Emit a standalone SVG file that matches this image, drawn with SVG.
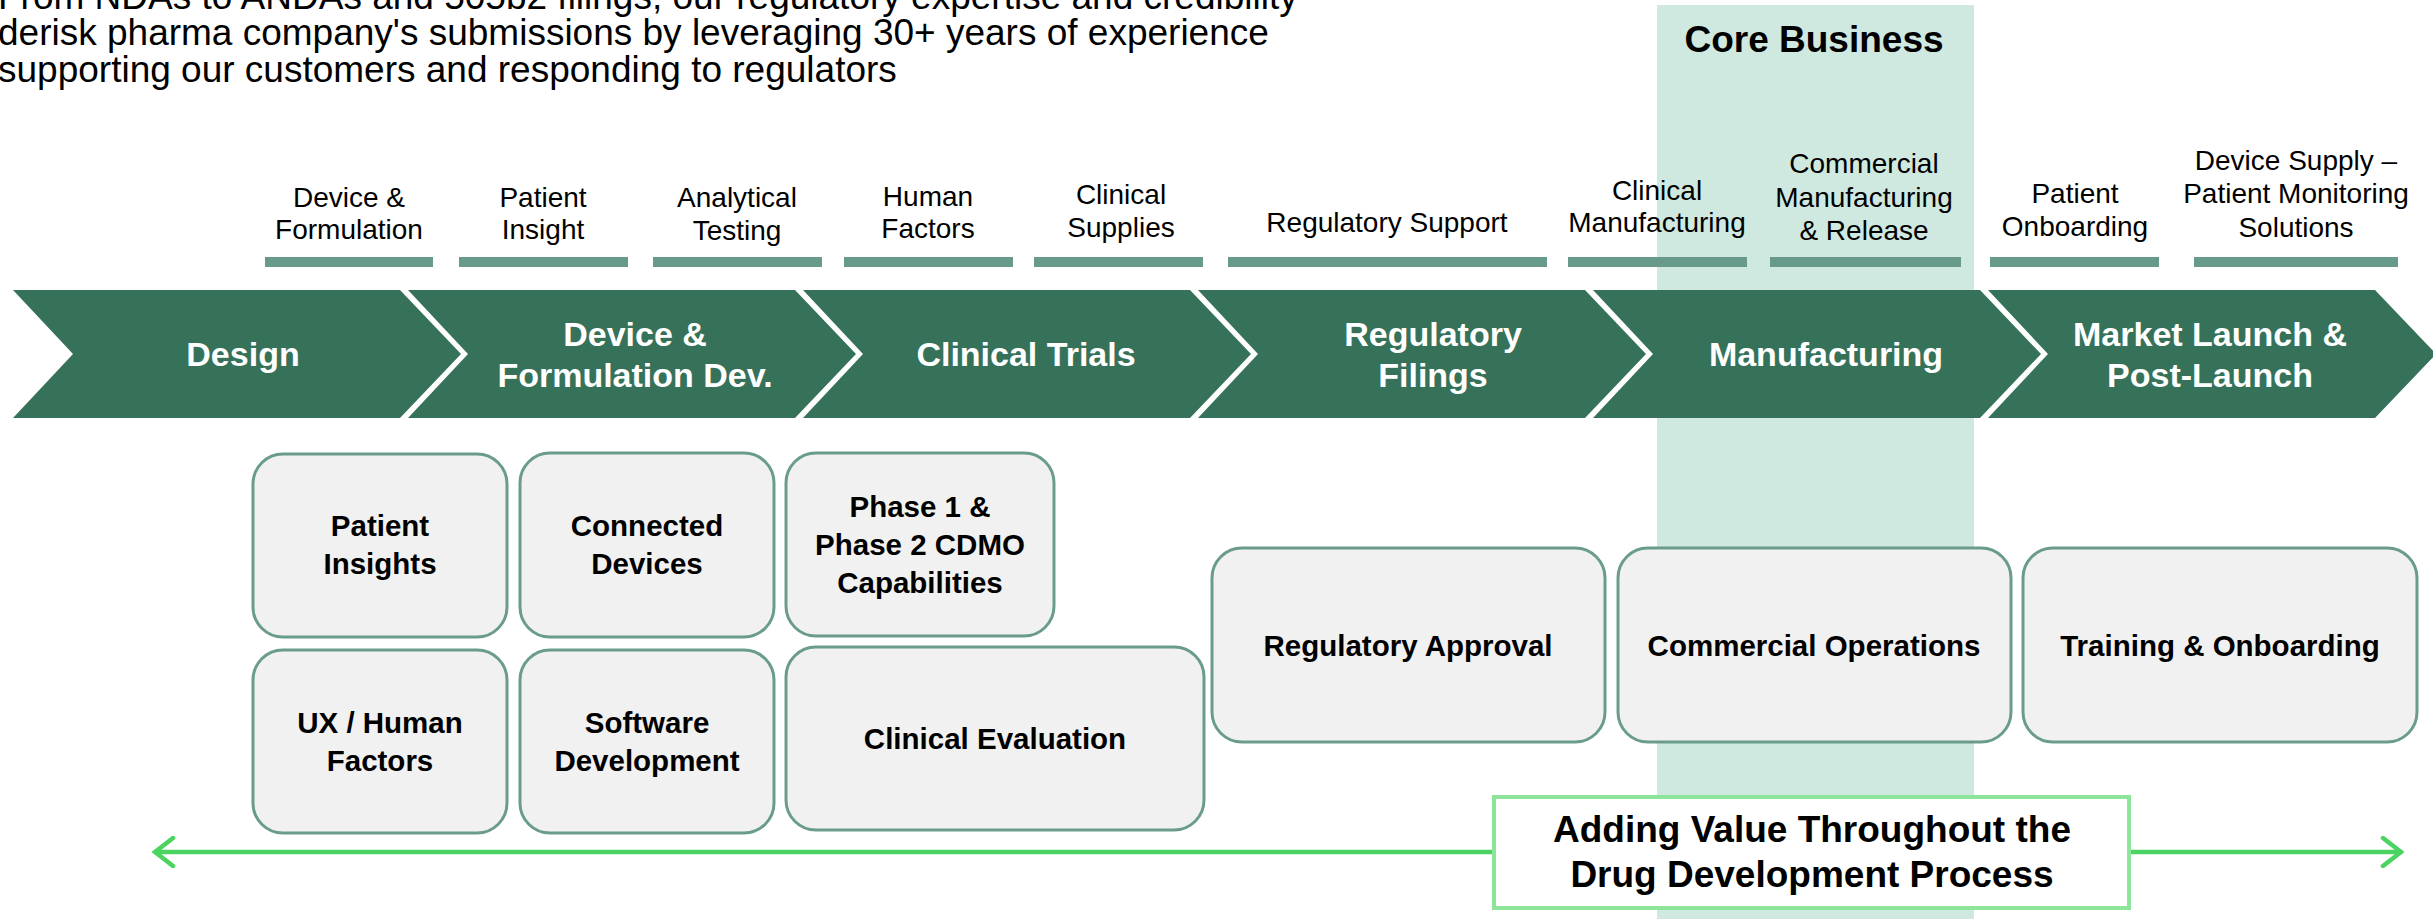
<svg xmlns="http://www.w3.org/2000/svg" width="2433" height="919" viewBox="0 0 2433 919">
<defs>
<style>
.intro{font-family:"Liberation Sans",Arial,sans-serif;font-size:37px;fill:#000}
.lbl{font-family:"Liberation Sans",Arial,sans-serif;font-size:28px;fill:#000;text-anchor:middle}
.bar{fill:#679A8B}
.chev{fill:#36725A}
.chevt{font-family:"Liberation Sans",Arial,sans-serif;font-size:34px;font-weight:bold;fill:#fff;text-anchor:middle}
.box{fill:#F1F1F1;stroke:#6A9C8C;stroke-width:3}
.boxt{font-family:"Liberation Sans",Arial,sans-serif;font-size:29.5px;font-weight:bold;fill:#000;text-anchor:middle}
.big{font-family:"Liberation Sans",Arial,sans-serif;font-size:37px;font-weight:bold;fill:#000;text-anchor:middle}
</style>
<marker id="openL" viewBox="0 0 24 32" refX="2" refY="16" markerWidth="24" markerHeight="32" markerUnits="userSpaceOnUse" orient="auto">
<path d="M21,2 L3,16 L21,30" fill="none" stroke="#4CD462" stroke-width="4.5" stroke-linecap="round"/>
</marker>
<marker id="openR" viewBox="0 0 24 32" refX="22" refY="16" markerWidth="24" markerHeight="32" markerUnits="userSpaceOnUse" orient="auto">
<path d="M3,2 L21,16 L3,30" fill="none" stroke="#4CD462" stroke-width="4.5" stroke-linecap="round"/>
</marker>
</defs>
<rect width="2433" height="919" fill="#fff"/>

<!-- Core business band -->
<g id="core-business">
<rect x="1657" y="5" width="317" height="914" fill="#CFE8E0"/>
<text x="1814" y="52" class="big">Core Business</text>
</g>

<!-- Intro text -->
<g id="intro">
<text class="intro" x="-2" y="8.5">From NDAs to ANDAs and 505b2 filings, our regulatory expertise and credibility</text>
<text class="intro" x="-2" y="45">derisk pharma company's submissions by leveraging 30+ years of experience</text>
<text class="intro" x="-2" y="81.5">supporting our customers and responding to regulators</text>
</g>

<!-- Top labels with bars -->
<g id="label-device-formulation"><text class="lbl" x="349" y="207">Device &amp;</text><text class="lbl" x="349" y="239">Formulation</text><rect class="bar" x="265" y="257" width="168" height="10"/></g>
<g id="label-patient-insight"><text class="lbl" x="543" y="207">Patient</text><text class="lbl" x="543" y="239">Insight</text><rect class="bar" x="459" y="257" width="169" height="10"/></g>
<g id="label-analytical-testing"><text class="lbl" x="737" y="207">Analytical</text><text class="lbl" x="737" y="240">Testing</text><rect class="bar" x="653" y="257" width="169" height="10"/></g>
<g id="label-human-factors"><text class="lbl" x="928" y="206">Human</text><text class="lbl" x="928" y="238">Factors</text><rect class="bar" x="844" y="257" width="169" height="10"/></g>
<g id="label-clinical-supplies"><text class="lbl" x="1121" y="204">Clinical</text><text class="lbl" x="1121" y="237">Supplies</text><rect class="bar" x="1034" y="257" width="169" height="10"/></g>
<g id="label-regulatory-support"><text class="lbl" x="1387" y="232">Regulatory Support</text><rect class="bar" x="1228" y="257" width="319" height="10"/></g>
<g id="label-clinical-manufacturing"><text class="lbl" x="1657" y="200">Clinical</text><text class="lbl" x="1657" y="232">Manufacturing</text><rect class="bar" x="1568" y="257" width="179" height="10"/></g>
<g id="label-commercial-manufacturing"><text class="lbl" x="1864" y="173">Commercial</text><text class="lbl" x="1864" y="207">Manufacturing</text><text class="lbl" x="1864" y="240">&amp; Release</text><rect class="bar" x="1770" y="257" width="191" height="10"/></g>
<g id="label-patient-onboarding"><text class="lbl" x="2075" y="203">Patient</text><text class="lbl" x="2075" y="236">Onboarding</text><rect class="bar" x="1990" y="257" width="169" height="10"/></g>
<g id="label-device-supply"><text class="lbl" x="2296" y="170">Device Supply –</text><text class="lbl" x="2296" y="203">Patient Monitoring</text><text class="lbl" x="2296" y="237">Solutions</text><rect class="bar" x="2194" y="257" width="204" height="10"/></g>

<!-- Chevrons -->
<g id="chevron-design"><polygon class="chev" points="13,290 400,290 461,354 400,418 13,418 73,354"/><text class="chevt" x="243" y="366">Design</text></g>
<g id="chevron-device"><polygon class="chev" points="408,290 795,290 856,354 795,418 408,418 468,354"/><text class="chevt" x="635" y="346">Device &amp;</text><text class="chevt" x="635" y="387">Formulation Dev.</text></g>
<g id="chevron-clinical"><polygon class="chev" points="803,290 1190,290 1251,354 1190,418 803,418 863,354"/><text class="chevt" x="1026" y="366">Clinical Trials</text></g>
<g id="chevron-regulatory"><polygon class="chev" points="1198,290 1585,290 1646,354 1585,418 1198,418 1258,354"/><text class="chevt" x="1433" y="346">Regulatory</text><text class="chevt" x="1433" y="387">Filings</text></g>
<g id="chevron-manufacturing"><polygon class="chev" points="1593,290 1980,290 2041,354 1980,418 1593,418 1653,354"/><text class="chevt" x="1826" y="366">Manufacturing</text></g>
<g id="chevron-market"><polygon class="chev" points="1988,290 2375,290 2436,354 2375,418 1988,418 2048,354"/><text class="chevt" x="2210" y="346">Market Launch &amp;</text><text class="chevt" x="2210" y="387">Post-Launch</text></g>

<!-- Capability boxes -->
<g id="box-patient-insights"><rect class="box" x="253" y="454" width="254" height="183" rx="30"/><text class="boxt" x="380" y="536">Patient</text><text class="boxt" x="380" y="574">Insights</text></g>
<g id="box-connected-devices"><rect class="box" x="520" y="453" width="254" height="184" rx="30"/><text class="boxt" x="647" y="536">Connected</text><text class="boxt" x="647" y="574">Devices</text></g>
<g id="box-phase"><rect class="box" x="786" y="453" width="268" height="183" rx="30"/><text class="boxt" x="920" y="517">Phase 1 &amp;</text><text class="boxt" x="920" y="555">Phase 2 CDMO</text><text class="boxt" x="920" y="593">Capabilities</text></g>
<g id="box-ux"><rect class="box" x="253" y="650" width="254" height="183" rx="30"/><text class="boxt" x="380" y="733">UX / Human</text><text class="boxt" x="380" y="771">Factors</text></g>
<g id="box-software"><rect class="box" x="520" y="650" width="254" height="183" rx="30"/><text class="boxt" x="647" y="733">Software</text><text class="boxt" x="647" y="771">Development</text></g>
<g id="box-clinical-evaluation"><rect class="box" x="786" y="647" width="418" height="183" rx="30"/><text class="boxt" x="995" y="749">Clinical Evaluation</text></g>
<g id="box-regulatory-approval"><rect class="box" x="1212" y="548" width="393" height="194" rx="30"/><text class="boxt" x="1408" y="656">Regulatory Approval</text></g>
<g id="box-commercial-operations"><rect class="box" x="1618" y="548" width="393" height="194" rx="30"/><text class="boxt" x="1814" y="656">Commercial Operations</text></g>
<g id="box-training"><rect class="box" x="2023" y="548" width="394" height="194" rx="30"/><text class="boxt" x="2220" y="656">Training &amp; Onboarding</text></g>

<!-- Connectors -->
<g id="connectors">
<line x1="154" y1="852" x2="2402" y2="852" stroke="#4CD462" stroke-width="4.5" marker-start="url(#openL)" marker-end="url(#openR)"/>
</g>

<g id="adding-value">
<rect x="1494" y="797" width="635" height="111" fill="#fff" stroke="#8CE598" stroke-width="4"/>
<text class="big" x="1812" y="842">Adding Value Throughout the</text>
<text class="big" x="1812" y="887">Drug Development Process</text>
</g>
</svg>
